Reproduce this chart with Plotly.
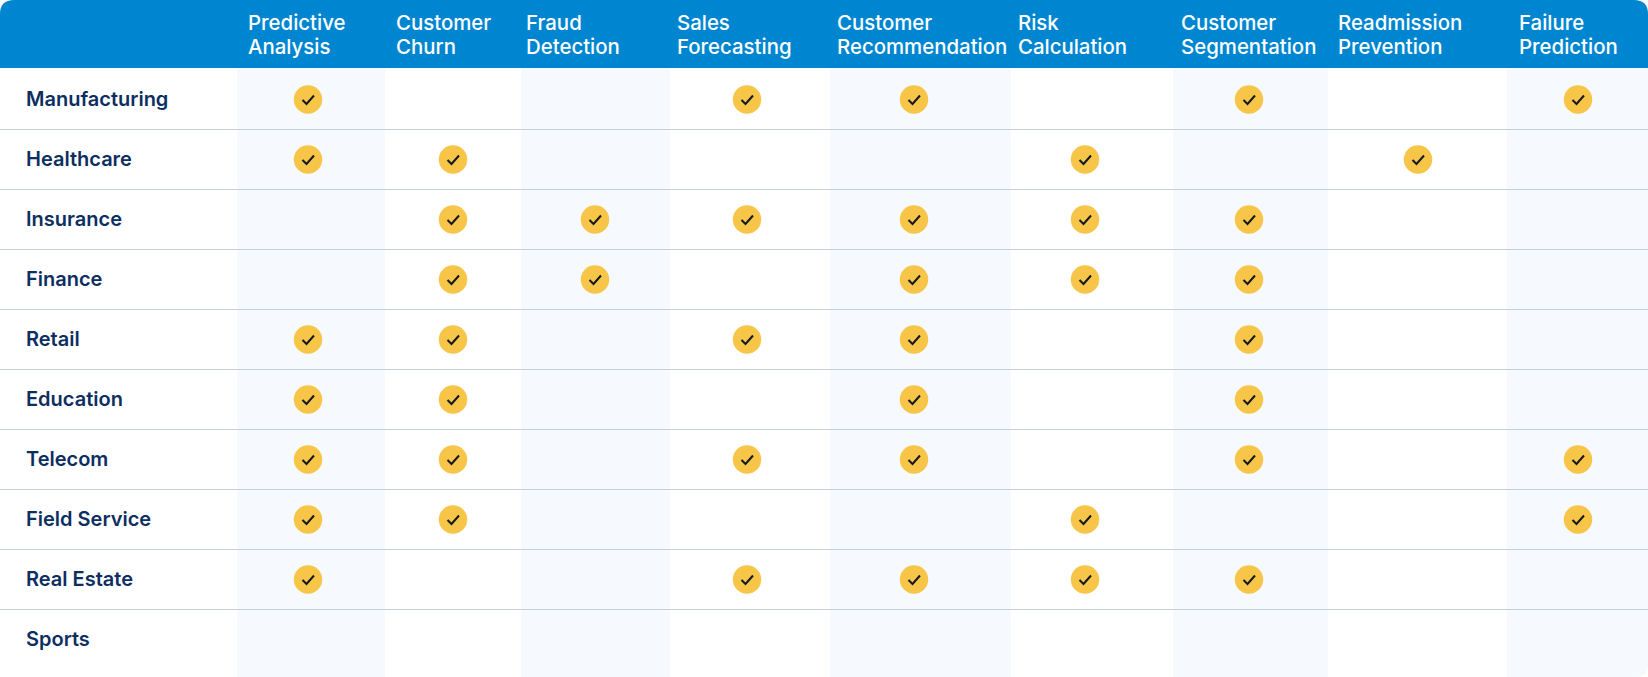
import plotly.graph_objects as go

# table contents
use_cases = ["Predictive<br>Analysis", "Customer<br>Churn", "Fraud<br>Detection", "Sales<br>Forecasting",
             "Customer<br>Recommendation", "Risk<br>Calculation", "Customer<br>Segmentation",
             "Readmission<br>Prevention", "Failure<br>Prediction"]
industries = ["Manufacturing", "Healthcare", "Insurance", "Finance", "Retail",
              "Education", "Telecom", "Field Service", "Real Estate", "Sports"]

# 1 = use case ticked for that industry
manufacturing = [1, 0, 0, 1, 1, 0, 1, 0, 1]
healthcare    = [1, 1, 0, 0, 0, 1, 0, 1, 0]
insurance     = [0, 1, 1, 1, 1, 1, 1, 0, 0]
finance       = [0, 1, 1, 0, 1, 1, 1, 0, 0]
retail        = [1, 1, 0, 1, 1, 0, 1, 0, 0]
education     = [1, 1, 0, 0, 1, 0, 1, 0, 0]
telecom       = [1, 1, 0, 1, 1, 0, 1, 0, 1]
field_service = [1, 1, 0, 0, 0, 1, 0, 0, 1]
real_estate   = [1, 0, 0, 1, 1, 1, 1, 0, 0]
sports        = [0, 0, 0, 0, 0, 0, 0, 0, 0]
checks = [manufacturing, healthcare, insurance, finance, retail,
          education, telecom, field_service, real_estate, sports]

# layout in pixels
W, H = 1648, 677
HEADER_H = 68
ROW_H = 60
FIRST_ROW = 99.5
col_centers = [308, 453, 595, 747, 914, 1085, 1249, 1418, 1578]
col_text_x = [248, 396, 526, 677, 837, 1018, 1181, 1338, 1519]
bands = [(237, 385), (521, 670), (830, 1011), (1173, 1328), (1507, 1648)]

BLUE = "#0086D1"
BAND = "#F6FAFE"
RULE = "#C9CFD7"
NAVY = "#0D2E61"
YELLOW = "#F7C548"
INK = "#14181F"


def row_px(i):
    return FIRST_ROW + ROW_H * i


dot_x, dot_y, tick_x, tick_y = [], [], [], []
for i, row in enumerate(checks):
    for j, on in enumerate(row):
        if on:
            cx, cy = col_centers[j], row_px(i)
            dot_x.append(cx)
            dot_y.append(cy)
            tick_x += [cx - 5.5, cx - 1.5, cx + 6, None]
            tick_y += [cy + 0.5, cy + 4.5, cy - 4, None]

fig = go.Figure()

# yellow dots
fig.add_trace(go.Scatter(x=dot_x, y=dot_y, mode="markers",
                         marker=dict(size=28.5, color=YELLOW, line=dict(width=0))))
# the tick inside each dot
fig.add_trace(go.Scatter(x=tick_x, y=tick_y, mode="lines",
                         line=dict(color=INK, width=2)))
# row names
fig.add_trace(go.Scatter(x=[26] * len(industries), y=[row_px(i) + 1 for i in range(len(industries))],
                         mode="text", text=industries, textposition="middle right",
                         textfont=dict(family="Inter", size=20, color=NAVY, weight=600)))

shapes = []
for x0, x1 in bands[:-1]:
    shapes.append(dict(type="rect", x0=x0, x1=x1, y0=HEADER_H, y1=H, fillcolor=BAND,
                       line_width=0, layer="below"))
# last band has a rounded bottom corner
x0, x1 = bands[-1]
shapes.append(dict(type="path", layer="below", fillcolor=BAND, line_width=0,
                   path=f"M {x0} {HEADER_H} L {x1} {HEADER_H} L {x1} {H - 12} Q {x1} {H} {x1 - 12} {H} L {x0} {H} Z"))
# rules between rows
for i in range(len(industries) - 1):
    y = row_px(i) + ROW_H / 2
    shapes.append(dict(type="line", x0=0, x1=W, y0=y, y1=y, layer="below",
                       line=dict(color=RULE, width=1.2)))
# header bar with rounded top corners
shapes.append(dict(type="path", layer="below", fillcolor=BLUE, line_width=0,
                   path=f"M 0 {HEADER_H} L 0 14 Q 0 0 14 0 L {W - 14} 0 Q {W} 0 {W} 14 L {W} {HEADER_H} Z"))

# header text, one annotation per line to hold the line pitch
annotations = []
for x, label in zip(col_text_x, use_cases):
    for y, part in zip([22, 46], label.split("<br>")):
        annotations.append(dict(x=x - 2, y=y, text=part, xref="x", yref="y", xanchor="left", yanchor="middle",
                                align="left", showarrow=False,
                                font=dict(family="Inter", size=20.4, color="white", weight=500)))

fig.update_layout(width=W, height=H, margin=dict(l=0, r=0, t=0, b=0),
                  paper_bgcolor="white", plot_bgcolor="white", showlegend=False,
                  hovermode=False, shapes=shapes, annotations=annotations,
                  xaxis=dict(range=[0, W], visible=False, fixedrange=True),
                  yaxis=dict(range=[H, 0], visible=False, fixedrange=True))

fig.write_html("out.html", config={"displayModeBar": False},
               post_script="document.body.style.margin='0';")
